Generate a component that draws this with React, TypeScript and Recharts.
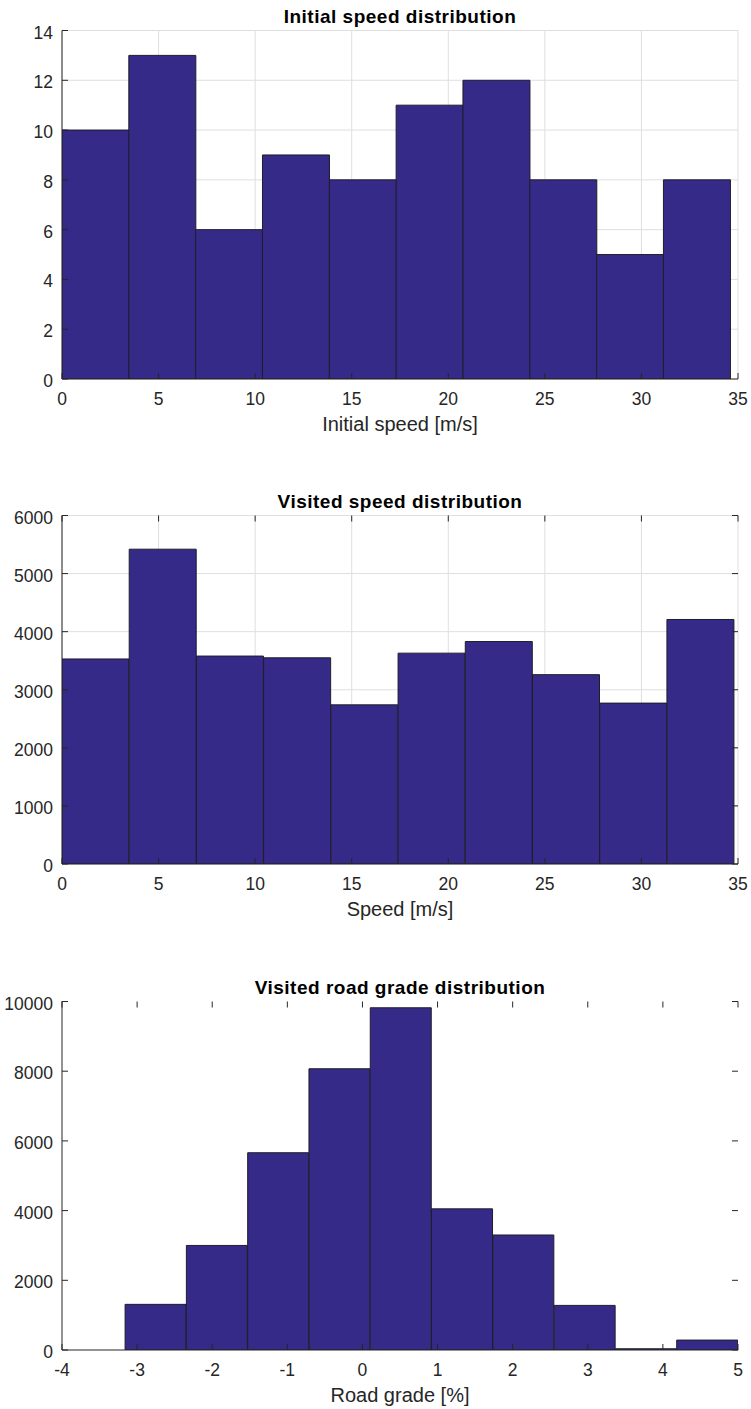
import React from "react";
import { BarChart, Bar, XAxis, YAxis, CartesianGrid } from "recharts";

// bin edges and counts
const initialSpeedEdges = [0, 3.46, 6.92, 10.38, 13.84, 17.3, 20.76, 24.22, 27.68, 31.14, 34.6];
const initialSpeedCounts = [10, 13, 6, 9, 8, 11, 12, 8, 5, 8];

const visitedSpeedEdges = [0, 3.48, 6.96, 10.44, 13.92, 17.4, 20.88, 24.36, 27.84, 31.32, 34.8];
const visitedSpeedCounts = [3530, 5420, 3580, 3550, 2740, 3630, 3830, 3260, 2770, 4210];

const gradeEdges = [-3.16, -2.344, -1.528, -0.712, 0.104, 0.92, 1.736, 2.552, 3.368, 4.184, 5.0];
const gradeCounts = [1310, 3000, 5660, 8070, 9820, 4050, 3300, 1280, 35, 285];

const speedTicks = [0, 5, 10, 15, 20, 25, 30, 35];
const gradeTicks = [-4, -3, -2, -1, 0, 1, 2, 3, 4, 5];
const initialCountTicks = [0, 2, 4, 6, 8, 10, 12, 14];
const visitedCountTicks = [0, 1000, 2000, 3000, 4000, 5000, 6000];
const gradeCountTicks = [0, 2000, 4000, 6000, 8000, 10000];

const W = 751;
const H = 440;
const PLOT_LEFT = 62;
const PLOT_RIGHT = 738;
const PLOT_TOP = 30.5;
const PLOT_BOTTOM = 379;
const TICK_LEN = 6;
const AXIS = "#262626";
const FONT = "'Liberation Sans', Arial, Helvetica, sans-serif";

const toBins = (edges: number[], counts: number[]) =>
  counts.map((c, i) => ({ mid: (edges[i] + edges[i + 1]) / 2, count: c }));

interface HistProps {
  top: number;
  data: { mid: number; count: number }[];
  xDomain: [number, number];
  xTicks: number[];
  yDomain: [number, number];
  yTicks: number[];
  title: string;
  xLabel: string;
  grid: boolean;
  box: boolean;
}

const Histogram = ({ top, data, xDomain, xTicks, yDomain, yTicks, title, xLabel, grid, box }: HistProps) => {
  const xTick = (props: any) => {
    const { x, payload } = props;
    return (
      <g>
        <line x1={x} x2={x} y1={PLOT_BOTTOM} y2={PLOT_BOTTOM - TICK_LEN} stroke={AXIS} />
        {box && <line x1={x} x2={x} y1={PLOT_TOP} y2={PLOT_TOP + TICK_LEN} stroke={AXIS} />}
        <text x={x} y={PLOT_BOTTOM + 26.3} textAnchor="middle" fontSize={17.5} fill={AXIS} fontFamily={FONT}>
          {payload.value}
        </text>
      </g>
    );
  };
  const yTick = (props: any) => {
    const { y, payload } = props;
    return (
      <g>
        <line x1={PLOT_LEFT} x2={PLOT_LEFT + TICK_LEN} y1={y} y2={y} stroke={AXIS} />
        {box && <line x1={PLOT_RIGHT} x2={PLOT_RIGHT - TICK_LEN} y1={y} y2={y} stroke={AXIS} />}
        <text x={53} y={y + 8} textAnchor="end" fontSize={17.5} fill={AXIS} fontFamily={FONT}>
          {payload.value}
        </text>
      </g>
    );
  };

  return (
    <div style={{ position: "absolute", left: 0, top, width: W, height: H }}>
      <BarChart
        width={W}
        height={H}
        data={data}
        margin={{ top: PLOT_TOP, right: W - PLOT_RIGHT, left: 12, bottom: 31 }}
        barCategoryGap={0}
        barGap={0}
      >
        {grid && <CartesianGrid stroke="#dfdfdf" />}
        <XAxis
          dataKey="mid"
          type="number"
          domain={xDomain}
          ticks={xTicks}
          allowDataOverflow
          height={30}
          tickLine={false}
          tick={xTick}
          stroke={AXIS}
        />
        <YAxis
          type="number"
          domain={yDomain}
          ticks={yTicks}
          allowDataOverflow
          width={50}
          tickLine={false}
          tick={yTick}
          stroke={AXIS}
        />
        {box && (
          <XAxis
            xAxisId="top"
            orientation="top"
            type="number"
            domain={xDomain}
            allowDataOverflow
            height={0}
            tick={false}
            tickLine={false}
            stroke={AXIS}
          />
        )}
        {box && (
          <YAxis
            yAxisId="right"
            orientation="right"
            type="number"
            domain={yDomain}
            allowDataOverflow
            width={0}
            tick={false}
            tickLine={false}
            stroke={AXIS}
          />
        )}
        <Bar dataKey="count" fill="#352a87" stroke="#1e1e2a" strokeWidth={1} isAnimationActive={false} />
      </BarChart>
      <svg width={W} height={H} style={{ position: "absolute", left: 0, top: 0, pointerEvents: "none" }}>
        <text
          x={(PLOT_LEFT + PLOT_RIGHT) / 2}
          y={PLOT_TOP - 8}
          textAnchor="middle"
          fontSize={19}
          fontWeight="bold"
          letterSpacing={0.5}
          fill="#000"
          fontFamily={FONT}
        >
          {title}
        </text>
        <text
          x={(PLOT_LEFT + PLOT_RIGHT) / 2}
          y={PLOT_BOTTOM + 52}
          textAnchor="middle"
          fontSize={20}
          fill={AXIS}
          fontFamily={FONT}
        >
          {xLabel}
        </text>
      </svg>
    </div>
  );
};

export default function App() {
  return (
    <div style={{ position: "absolute", left: 0, top: 0, width: W, height: 1409, background: "#fff" }}>
      <Histogram
        top={0}
        data={toBins(initialSpeedEdges, initialSpeedCounts)}
        xDomain={[0, 35]}
        xTicks={speedTicks}
        yDomain={[0, 14]}
        yTicks={initialCountTicks}
        title="Initial speed distribution"
        xLabel="Initial speed [m/s]"
        grid
        box={false}
      />
      <Histogram
        top={484.5}
        data={toBins(visitedSpeedEdges, visitedSpeedCounts)}
        xDomain={[0, 35]}
        xTicks={speedTicks}
        yDomain={[0, 6000]}
        yTicks={visitedCountTicks}
        title="Visited speed distribution"
        xLabel="Speed [m/s]"
        grid
        box
      />
      <Histogram
        top={971.2}
        data={toBins(gradeEdges, gradeCounts)}
        xDomain={[-4, 5]}
        xTicks={gradeTicks}
        yDomain={[0, 10000]}
        yTicks={gradeCountTicks}
        title="Visited road grade distribution"
        xLabel="Road grade [%]"
        grid={false}
        box
      />
    </div>
  );
}
